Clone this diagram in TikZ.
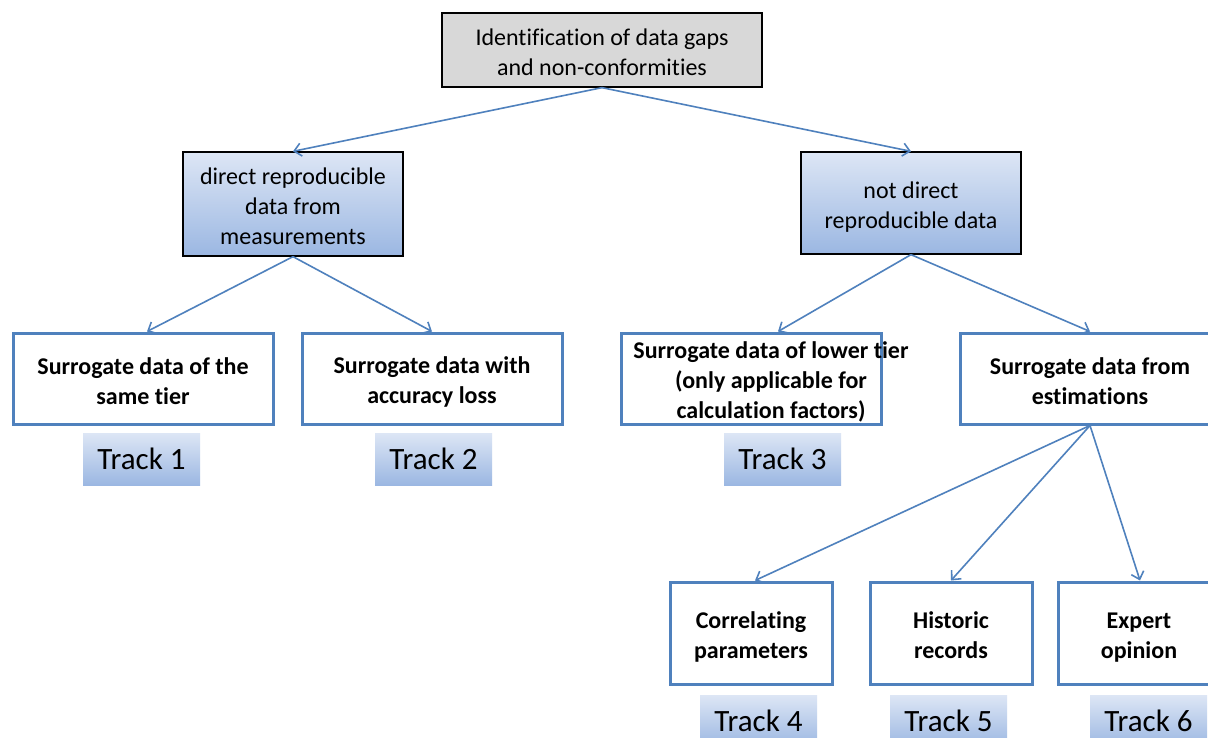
\documentclass[tikz,border=0pt]{standalone}
\usepackage{fontspec}
\setmainfont{Carlito}[Ligatures=NoCommon]
\usetikzlibrary{arrows.meta}
\definecolor{obl}{RGB}{79,129,189}
\definecolor{gtop}{RGB}{221,230,245}
\definecolor{gbot}{RGB}{155,183,226}
\definecolor{grayfill}{RGB}{216,216,216}
\newcommand\ls{\rule[-3pt]{0pt}{27pt}}
\tikzset{
  txt/.style={align=center, font=\fontsize{24}{30}\selectfont, inner sep=0pt},
  topbox/.style={txt, draw=black, line width=1.3pt, fill=grayfill, minimum width=320pt, minimum height=74pt},
  gradbox/.style={txt, draw=black, line width=1.3pt, top color=gtop, bottom color=gbot, minimum width=220pt},
  whitebox/.style={txt, font=\fontsize{24}{30}\selectfont\bfseries, draw=obl, line width=3pt, fill=white, minimum width=260pt, minimum height=91pt},
  plaintext/.style={txt, font=\fontsize{24}{30}\selectfont\bfseries},
  smallbox/.style={whitebox, minimum width=162pt, minimum height=102pt},
  track/.style={inner sep=0pt, font=\fontsize{31}{36}\selectfont, top color=gtop, bottom color=gbot, minimum width=117pt, minimum height=52pt},
  conn/.style={draw=obl, line width=1.6pt, -{Straight Barb[length=7pt,width=13pt,line width=1.6pt]}}
}
\begin{document}
\begin{tikzpicture}[x=1pt,y=-1pt]
\useasboundingbox (0,0) rectangle (1208,738);
\clip (0,0) rectangle (1208,738);
\fill[white] (0,0) rectangle (1208,738);

\node[topbox] (top) at (602,50) {\ls Identification of data gaps\\\ls and non-conformities};
\node[gradbox, minimum height=104pt] (A) at (293,204) {\ls direct reproducible\\\ls data from\\\ls measurements};
\node[gradbox, minimum height=102pt] (B) at (911,203) {\ls not direct\\\ls reproducible data};

\node[whitebox] (S1) at (143,378.5) {\ls Surrogate data of the\\\ls same tier};
\node[whitebox] (S2) at (432,378.5) {\ls Surrogate data with\\\ls accuracy loss};
\node[whitebox] (S3) at (751,378.5) {};
\node[plaintext] (S3t) at ([xshift=20pt]S3.center) {\ls Surrogate data of lower tier\\\ls (only applicable for\\\ls calculation factors)};
\node[whitebox] (S4) at (1090,378.5) {\ls Surrogate data from\\\ls estimations};

\node[track] (T1) at (141.5,459) {Track 1};
\node[track] (T2) at (433.5,459) {Track 2};
\node[track] (T3) at (782.5,459) {Track 3};

\node[smallbox] (C1) at (751,633) {\ls Correlating\\\ls parameters};
\node[smallbox] (C2) at (951,633) {\ls Historic\\\ls records};
\node[smallbox] (C3) at (1139,633) {\ls Expert\\\ls opinion};

\node[track] (T4) at (758.5,721) {Track 4};
\node[track] (T5) at (948.5,721) {Track 5};
\node[track] (T6) at (1148.5,721) {Track 6};

\draw[conn] (top.south) -- (A.north);
\draw[conn] (top.south) -- (B.north);
\draw[conn] (A.south) -- ([xshift=4pt]S1.north);
\draw[conn] (A.south) -- (S2.north);
\draw[conn] (B.south) -- ([xshift=27pt]S3.north);
\draw[conn] (B.south) -- (S4.north);
\draw[conn] (S4.south) -- ([xshift=4pt]C1.north);
\draw[conn] (S4.south) -- (C2.north);
\draw[conn] (S4.south) -- ([xshift=1pt]C3.north);
\end{tikzpicture}
\end{document}
